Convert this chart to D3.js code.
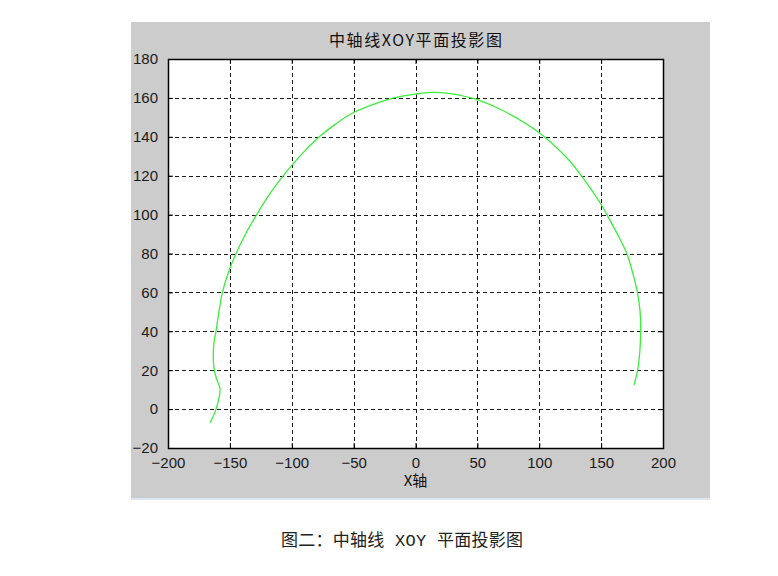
<!DOCTYPE html>
<html>
<head>
<meta charset="utf-8">
<script src="https://cdn.jsdelivr.net/npm/d3@7"></script>
<style>
  html, body { margin: 0; padding: 0; background: #ffffff; }
  svg { display: block; }
</style>
</head>
<body>
<svg id="chart" width="778" height="576"></svg>
<script>
// ---- data ----
const titleText = "中轴线XOY平面投影图";
const xLabelText = "X轴";
const captionText = "图二：中轴线 XOY 平面投影图";
const xDomain = [-200, 200];
const yDomain = [-20, 180];
const xTicks = [-200, -150, -100, -50, 0, 50, 100, 150, 200];
const yTicks = [-20, 0, 20, 40, 60, 80, 100, 120, 140, 160, 180];
const curveX = [-166, -161.2, -158, -160.5, -162.6, -163.4, -162.7, -161.2, -158.9, -156, -151.4, -145, -137, -128.3,
  -117.8, -106.8, -100, -90, -77.7, -65, -50, -28.3, -17.5, 0, 11.7, 25.2, 44, 50, 71, 100, 122.2, 134,
  150, 155, 162.6, 170.7, 175.5, 179.3, 181.5, 182, 181.3, 179.5, 176.6];
const curveY = [-7, 0, 10.5, 15, 20, 28, 35, 40, 50, 60, 70, 80, 90.4, 100,
  110.6, 120, 125.3, 132.4, 140, 146.4, 152.5, 158, 160, 161.9, 162.8, 162.5, 160.2, 159.1, 153.4, 142.1, 129.2, 120,
  105.2, 99.6, 90.6, 80, 70, 60, 50, 40.7, 30, 20, 12.4];

// ---- layout ----
const svg = d3.select("#chart");
const fig = { x: 131, y: 22, w: 579, h: 476 };
const plot = { left: 168, top: 59, right: 663, bottom: 448 };

svg.append("rect").attr("x", fig.x).attr("y", fig.y).attr("width", fig.w).attr("height", fig.h)
  .attr("fill", "#cccccc");
svg.append("line").attr("x1", fig.x).attr("x2", fig.x + fig.w).attr("y1", fig.y + fig.h + 1).attr("y2", fig.y + fig.h + 1)
  .attr("stroke", "#dfe6f2").attr("stroke-width", 2);

const x = d3.scaleLinear().domain(xDomain).range([plot.left, plot.right]);
const y = d3.scaleLinear().domain(yDomain).range([plot.bottom, plot.top]);

svg.append("rect").attr("x", plot.left).attr("y", plot.top)
  .attr("width", plot.right - plot.left).attr("height", plot.bottom - plot.top).attr("fill", "#ffffff");

// grid
const grid = svg.append("g").attr("stroke", "#1a1a1a").attr("stroke-width", 1).attr("stroke-dasharray", "4,3");
grid.selectAll("line.gx").data(xTicks.slice(1, -1)).join("line")
  .attr("x1", d => Math.round(x(d)) + 0.5).attr("x2", d => Math.round(x(d)) + 0.5)
  .attr("y1", plot.top).attr("y2", plot.bottom);
grid.selectAll("line.gy").data(yTicks.slice(1, -1)).join("line")
  .attr("y1", d => Math.round(y(d)) + 0.5).attr("y2", d => Math.round(y(d)) + 0.5)
  .attr("x1", plot.left).attr("x2", plot.right);

// curve
const pts = curveX.map((v, i) => [v, curveY[i]]);
svg.append("path").datum(pts)
  .attr("fill", "none").attr("stroke", "#3aee3a").attr("stroke-width", 1.3)
  .attr("d", d3.line().x(d => x(d[0])).y(d => y(d[1])).curve(d3.curveCatmullRom.alpha(0.5)));

// axes (MATLAB style: inward ticks)
const font = "'Liberation Sans', Arial, sans-serif";
const axB = svg.append("g").attr("transform", `translate(0,${plot.bottom})`)
  .call(d3.axisBottom(x).tickValues(xTicks).tickSizeInner(-5).tickSizeOuter(0).tickPadding(9));
const axL = svg.append("g").attr("transform", `translate(${plot.left},0)`)
  .call(d3.axisLeft(y).tickValues(yTicks).tickSizeInner(-5).tickSizeOuter(0).tickPadding(10));
const axT = svg.append("g").attr("transform", `translate(0,${plot.top})`)
  .call(d3.axisTop(x).tickValues(xTicks).tickSizeInner(-5).tickSizeOuter(0).tickFormat(""));
const axR = svg.append("g").attr("transform", `translate(${plot.right},0)`)
  .call(d3.axisRight(y).tickValues(yTicks).tickSizeInner(-5).tickSizeOuter(0).tickFormat(""));
[axB, axL, axT, axR].forEach(a => {
  a.select(".domain").remove();
  a.selectAll(".tick line").attr("stroke", "#000");
  a.selectAll("text").attr("fill", "#1a1a1a").style("font-family", font).style("font-size", "15px");
});
axB.selectAll("text").attr("dy", "0.71em");

svg.append("rect").attr("x", plot.left + 0.5).attr("y", plot.top + 0.5)
  .attr("width", plot.right - plot.left).attr("height", plot.bottom - plot.top)
  .attr("fill", "none").attr("stroke", "#000").attr("stroke-width", 1.5);

// title & label
const cjk = "'Noto Sans CJK SC', 'Liberation Sans', sans-serif";
svg.append("text").attr("x", (plot.left + plot.right) / 2).attr("y", 46)
  .attr("text-anchor", "middle").attr("fill", "#111")
  .style("font-family", cjk).style("font-size", "16px")
  .attr("textLength", 173).attr("lengthAdjust", "spacing")
  .text(titleText);
svg.append("text").attr("x", (plot.left + plot.right) / 2).attr("y", 486)
  .attr("text-anchor", "middle").attr("fill", "#111")
  .style("font-family", cjk).style("font-size", "15px")
  .text(xLabelText);

// caption
svg.append("text").attr("x", 281).attr("y", 546)
  .attr("fill", "#222")
  .style("font-family", "'Liberation Mono', 'Noto Sans CJK SC', monospace").style("font-size", "17px")
  .attr("textLength", 242).attr("lengthAdjust", "spacing")
  .text(captionText);
</script>
</body>
</html>
